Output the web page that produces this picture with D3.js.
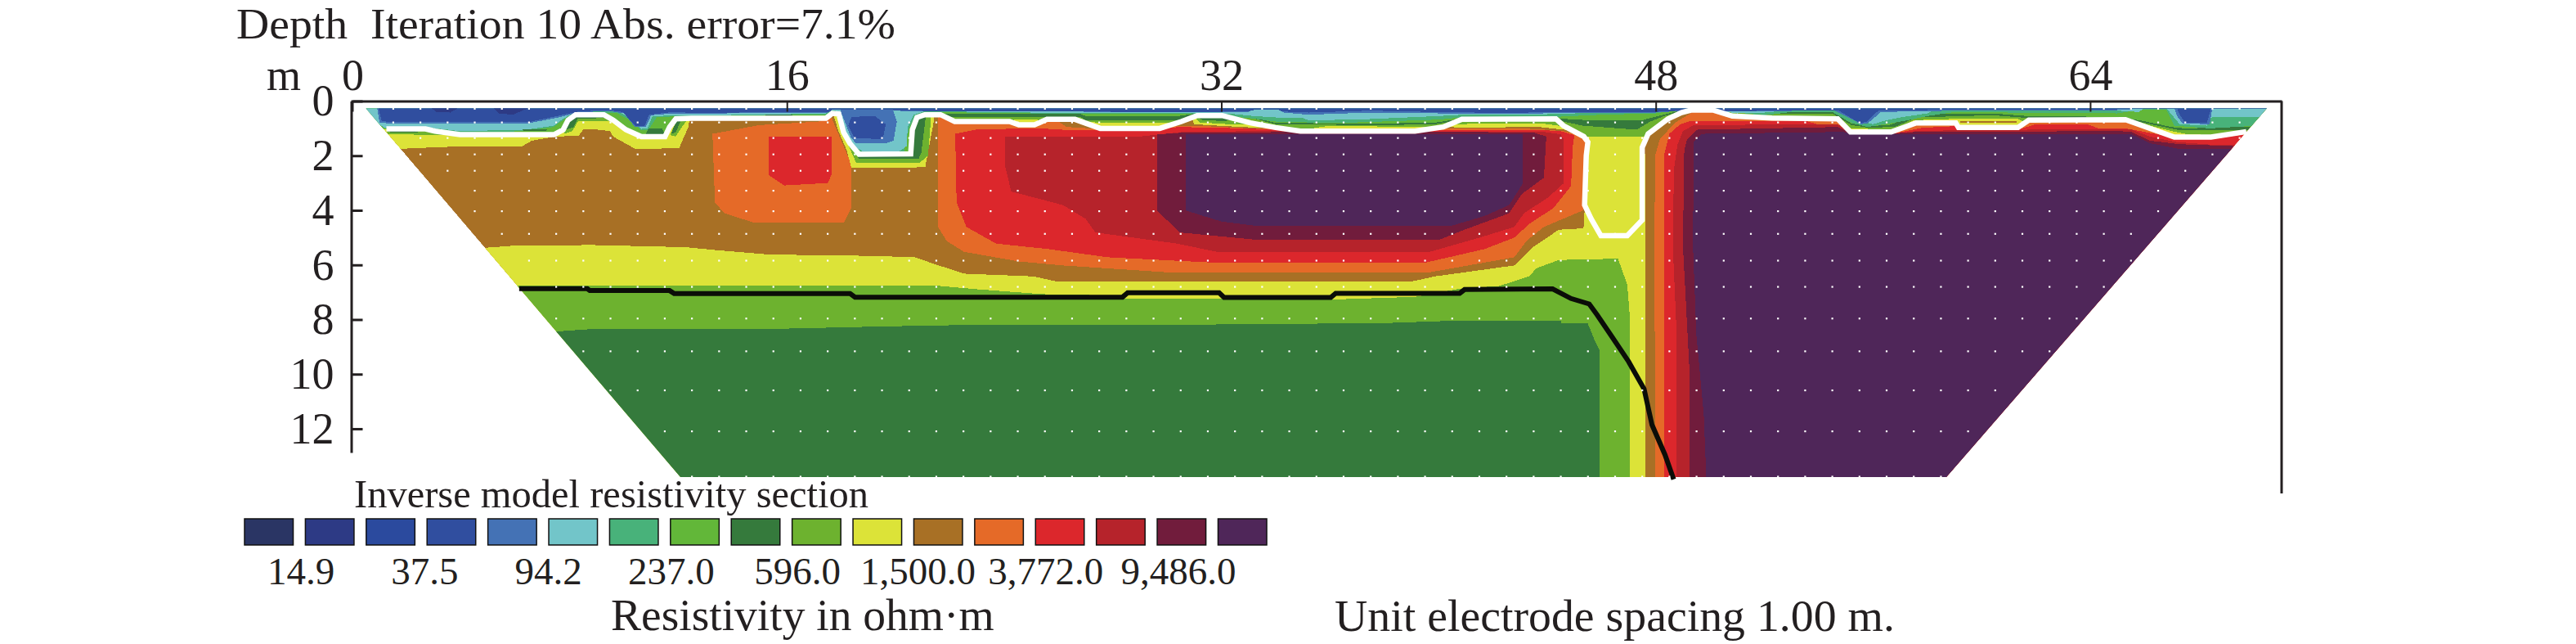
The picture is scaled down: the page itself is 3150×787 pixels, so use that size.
<!DOCTYPE html>
<html>
<head>
<meta charset="utf-8">
<script src="https://d3js.org/d3.v7.min.js"></script>
<style>
body { margin: 0; background: #fff; }
text { font-family: "Liberation Serif", serif; fill: #231f20; }
</style>
</head>
<body>
<svg id="chart" width="3150" height="787"></svg>
<script>
// resistivity classes of the colour key, low to high
const bandColors = ['#2a3564','#2d3a85','#2b4a9e','#304e9f','#4472b5','#72c5c9','#48b27a','#62b739',
	'#357a3c','#6db22f','#dce338','#a87025','#e56a28','#dc272c','#b6232b','#711c3c','#4f2659'];
const BROWN = 11, YELLOW = 10, GREEN9 = 9, DKGREEN = 8, GREEN7 = 7, SEA = 6, CYAN = 5, STEEL = 4, BLUE = 3, NAVY = 1,
	ORANGE = 12, RED = 13, DKRED = 14, WINE = 15, PURPLE = 16;
const keyLabels = ['14.9','37.5','94.2','237.0','596.0','1,500.0','3,772.0','9,486.0'];
const xTicks = [0,16,32,48,64];
const yTicks = [0,2,4,6,8,10,12];

const section = [[0.5,0.27],[70.5,0.27],[58.7,13.77],[12.08,13.77]];

// the white line, the upper zone sits above it
const whiteLine = [[1.25,1.02],[2.69,1.02],[3.04,1.1],[3.96,1.23],[7.42,1.23],[7.76,1.05],[7.94,0.7],[8.22,0.5],[9.26,0.5],[9.61,0.7],
	[10.07,1.05],[10.64,1.3],[11.51,1.3],[11.68,0.95],[11.91,0.65],[12.49,0.63],[17.44,0.63],[17.67,0.45],[17.91,0.47],[18.09,1.15],[18.32,1.55],
	[18.66,1.95],[20.56,1.93],[20.62,1.05],[20.79,0.6],[21.08,0.5],[21.66,0.5],[22.18,0.75],[24.2,0.75],[24.54,0.87],[25.12,0.87],[25.58,0.67],
	[26.61,0.67],[27.54,1],[29.73,1],[30.53,0.75],[31.11,0.53],[32.03,0.53],[33.07,0.8],[34,0.97],[34.91,1.1],[39.13,1.1],[40.17,0.95],[40.86,0.67],
	[44.32,0.65],[44.6,0.9],[45.35,1.3],[45.5,1.5],[45.44,2],[45.38,3.81],[45.62,4.31],[45.98,4.93],[46.95,4.93],[47.5,4.36],[47.5,1.7],[47.72,1.2],
	[48.45,0.65],[48.95,0.42],[49.3,0.33],[50.1,0.33],[50.82,0.55],[52.28,0.62],[54.7,0.65],[55.17,1.13],[56.67,1.13],[57.59,0.8],[59.05,0.8],
	[59.15,0.97],[61.34,0.97],[61.74,0.7],[65.3,0.68],[67.1,1.32],[68.45,1.32],[69.75,1.12]];

const blackLine = [[6.14,6.87],[8.65,6.87],[8.74,6.94],[11.68,6.94],[11.85,7.05],[18.33,7.05],[18.51,7.18],[28.36,7.18],[28.55,7.02],[31.92,7.02],
	[32.1,7.19],[36.03,7.19],[36.21,7.04],[40.78,7.04],[40.96,6.9],[44.2,6.88],[44.88,7.23],[45.55,7.43],[45.84,7.83],[46.32,8.53],[47,9.54],
	[47.57,10.54],[47.86,11.85],[48.34,12.95],[48.66,13.85]];

// below the white line, painted in this order over a brown base
const lowerYellow = [[0,5.37],[4.92,5.37],[5.87,5.3],[8.79,5.27],[12.25,5.35],[13.53,5.47],[15.36,5.62],[19.19,5.67],[20.7,5.72],[21.6,6.02],
	[22.52,6.32],[25.08,6.42],[26,6.62],[38.95,6.62],[39.86,6.42],[42.79,6.02],[43.52,5.32],[44.43,4.71],[45.34,4.66],[45.44,3],[45.44,1],
	[47.5,1],[47.5,1.7],[47.63,2],[47.63,14],[0,14]];
const lowerGreen = [[0,6.77],[21.62,6.77],[23,6.89],[25.42,7.07],[28.18,7.12],[28.36,7.25],[32,7.25],[36,7.27],[39.14,7.17],[40.78,6.87],
	[42.24,6.77],[43.33,6.42],[43.61,6.12],[44.43,5.82],[46.61,5.77],[46.95,6.72],[47.05,7.93],[47.05,14],[0,14]];
const lowerDark = [[0,8.43],[7.61,8.43],[8.65,8.36],[16.09,8.33],[19.63,8.25],[23.7,8.18],[28.1,8.21],[38.04,8.13],[40.05,8.06],[44.5,8.05],
	[44.53,8.13],[45.49,8.13],[45.74,8.73],[45.94,9.14],[45.94,14],[0,14]];

const leftYellow = [[1,0.9],[12.43,0.6],[12.37,0.95],[12.03,1.73],[10.41,1.75],[9.6,1.3],[9.49,1.1],[8.8,1.02],[8.51,1.02],[8.34,1.27],[7.47,1.3],
	[6.61,1.45],[6.26,1.65],[3.32,1.68],[1.77,1.75]];
const leftGreen = [[1.25,1.05],[2.7,1.05],[3.9,1.25],[3,1.25],[1.3,1.2]];
const leftDark = [[1.3,1.08],[2.2,1.08],[2.5,1.16],[1.4,1.16]];
const archGreen = [[7.9,0.7],[8.2,0.5],[9.3,0.5],[9.6,0.75],[8.6,0.72],[8.3,0.75],[8.1,1.1],[7.8,1.2]];
const archDark = [[7.95,0.7],[8.2,0.55],[9.2,0.55],[9.3,0.62],[8.3,0.65],[8.15,0.95],[7.85,1.05]];
const pocketGreen = [[11.7,1.25],[11.95,0.7],[12.32,0.7],[12.1,1],[11.9,1.3]];
const pocketDark = [[11.72,1.2],[11.95,0.72],[12.1,0.72],[11.9,1.15]];

const patchOrange = [[13.26,1.2],[14.99,0.88],[17.18,0.75],[17.64,0.6],[18.37,2.3],[18.37,3.91],[18.1,4.46],[14.81,4.46],[13.7,4.11],[13.35,3.71]];
const patchRed = [[15.32,1.3],[17.64,1.3],[17.64,2.7],[17.51,3],[15.9,3.09],[15.33,2.71]];

const troughYellow = [[17.74,0.6],[17.9,1.1],[18.2,1.8],[18.38,2.45],[20.5,2.45],[21.1,2.4],[21.4,0.8],[21.4,0.4],[17.74,0.4]];
const troughGreen = [[17.85,0.6],[18.05,1.2],[18.3,1.7],[18.55,2.25],[20.9,2.25],[21.2,2],[21.3,0.7],[21.3,0.4],[17.85,0.4]];
const troughDark = [[17.95,0.6],[18.15,1.2],[18.4,1.6],[18.65,2.12],[20.85,2.12],[20.95,1.9],[21.1,0.7],[21.1,0.4],[17.95,0.4]];

const capYellowA = [[30.9,0.6],[32.2,0.6],[33.2,0.85],[34,1],[33.2,0.97],[32.2,0.92],[31,0.85]];
const capGreenA = [[31,0.55],[32.2,0.55],[32.8,0.72],[33,0.85],[32.3,0.85],[31.2,0.78]];
const capDarkA = [[31.1,0.55],[32.1,0.55],[32.5,0.68],[32.1,0.73],[31.3,0.7]];
const capYellowB = [[40.2,0.95],[40.9,0.65],[44.4,0.65],[45.1,1.1],[43.7,0.95],[41,0.97]];
const capGreenB = [[40.5,0.85],[41,0.68],[44.4,0.68],[44.8,0.95],[43.8,0.82],[42,0.82]];

const bodyOrange = [[21.57,0.5],[25.5,0.6],[26,0.75],[26.3,0.95],[27.2,1],[29.8,0.97],[30.3,0.9],[31,0.9],[32.1,0.95],[33,1],[34,1],[34.9,1.1],
	[39.1,1.1],[40,1.02],[41,1],[43.5,1.02],[44.6,1.1],[45.2,1.25],[45.44,1.5],[45.4,3.7],[45.31,4.01],[43.88,4.61],[43.24,5.12],[42.79,5.72],
	[39.68,6.27],[30,6.27],[26.17,6.02],[24.53,5.87],[22.52,5.52],[21.88,5.12],[21.57,4.61]];
const bodyRed = [[22.2,1.2],[22.93,1.05],[25.12,0.99],[26.15,1.05],[27.54,1.05],[29.73,1.02],[30.42,0.95],[32.03,0.98],[33.3,1.02],[34,1.05],[34.9,1.12],
	[39.1,1.12],[40.2,1.05],[43.5,1.05],[44.5,1.1],[45,1.25],[44.94,1.7],[44.88,3.11],[44.24,3.91],[43.33,4.51],[42.79,5],[41.69,5.42],[39.5,5.92],
	[31.83,5.92],[27.82,5.72],[25.63,5.42],[23.71,5.22],[22.61,4.61],[22.25,3.71]];
const bodyDkRed = [[24.02,1.3],[29,1.3],[29.9,1.2],[30.7,1.12],[34,1.1],[35,1.13],[39.1,1.12],[43.8,1.12],[44.5,1.22],[44.61,1.4],[44.61,3.01],
	[44.06,3.51],[43.15,4.11],[42.79,4.61],[41.51,5],[39.68,5.52],[31.83,5.52],[30.37,5.22],[27.36,4.81],[27,4.31],[26.17,3.81],[24.26,3.31],[24.02,2.3]];
const bodyWine = [[29.64,1.22],[30.7,1.15],[39,1.12],[43.5,1.15],[43.97,1.3],[43.88,2.81],[43.06,3.41],[42.6,4.11],[40.96,4.71],[40.05,5.07],
	[33.2,5.07],[30.46,4.81],[29.64,4.01]];
const bodyPurple = [[30.7,1.2],[43.11,1.2],[43.11,3.01],[42.6,3.81],[41.69,4.21],[40.5,4.56],[33.2,4.56],[32,4.41],[30.7,4.01]];

const rightOrange = [[47.99,14],[47.95,5.32],[47.98,2],[48.15,1.4],[48.7,0.8],[49.2,0.5],[49.5,0.3],[72,0.3],[72,14]];
const rightRed = [[48.3,14],[48.3,2],[48.5,1.2],[48.9,0.85],[49.3,0.72],[53.5,0.72],[55,1.15],[56.7,1.2],[57.8,0.98],[59,0.92],[59.1,1],[61.5,1],
	[62,0.85],[63.9,0.85],[64.3,1],[65.3,1],[66,1.13],[67.2,1.35],[68.5,1.4],[69.5,1.25],[72,1.1],[72,14]];
const rightDkRed = [[48.76,14],[48.76,8.3],[48.63,5.32],[48.67,2.5],[48.8,1.6],[49,1.1],[49.4,0.88],[54.7,0.85],[55.2,1.17],[56.7,1.2],[57.6,1.1],
	[59,1.07],[61.5,1.05],[65.49,1.03],[66.2,1.3],[67.16,1.5],[68.5,1.6],[72,1.6],[72,14]];
const rightWine = [[49.24,14],[49.24,9.84],[49.07,6.6],[49,5.32],[49.05,1.8],[49.15,1.4],[49.5,1.05],[54.7,0.95],[55.1,1.13],[56.8,1.18],[57.6,1.13],
	[65,1.1],[65.5,1.12],[66.2,1.45],[67.3,1.58],[69.3,1.65],[72,1.65],[72,14]];
const rightPurple = [[49.87,14],[49.77,11.5],[49.5,8.6],[49.37,5.32],[49.4,1.5],[49.7,1.2],[54.9,1.13],[55.2,1.2],[65.49,1.2],[66.23,1.55],[67.27,1.75],
	[72,1.77],[72,14]];

// above the white line: lower edge of each class, surface to that edge
const upperGreen9 = [[0,3],[22,1],[24,0.85],[24.4,0.68],[25.2,0.68],[25.6,0.8],[26.6,0.8],[27,0.75],[27.6,0.8],[30.5,0.8],[31.1,0.6],[32,0.6],[33,0.85],
	[34,1.05],[35,1.05],[36,0.9],[39,0.95],[40.2,0.95],[41,1],[44.4,1],[45.4,1.3],[47.6,1.3],[48,1],[48.5,0.8],[49,0.6],[52,0.8],[54.8,0.8],[55.2,1],
	[56.8,1.05],[57.5,0.7],[59.1,0.65],[61.3,0.63],[61.7,0.85],[65.8,0.85],[66.2,0.9],[67,1.1],[67.5,1.2],[68.5,1.25],[72,1.2]];
const upperDark = [[0,0.2],[20.9,0.2],[21,0.5],[22,0.57],[26.8,0.57],[27,0.7],[30.4,0.7],[31,0.55],[33,0.58],[34,0.85],[37.5,0.88],[39.8,0.86],[41,0.66],
	[44.3,0.66],[44.6,0.75],[45.3,0.9],[47.3,1.05],[47.8,0.75],[48.3,0.55],[49,0.36],[50.2,0.4],[52,0.45],[54.5,0.45],[55.2,0.88],[55.8,0.97],[56.8,0.95],
	[57.6,0.6],[60.4,0.52],[61.7,0.62],[65.1,0.63],[66,0.8],[67.2,1.05],[68,1.07],[69.5,1.05],[72,1.05]];
const upperGreen7 = [[0,3],[20.6,3],[20.9,0.7],[21.08,0.45],[25.8,0.45],[26.8,0.47],[27,0.55],[30.4,0.55],[31.1,0.45],[33,0.55],[34,0.8],[37,0.82],[39.8,0.8],
	[41,0.62],[44.3,0.62],[44.6,0.65],[45.5,0.7],[47.5,0.7],[47.9,0.6],[48.3,0.5],[49,0.32],[50.2,0.36],[52,0.4],[54.5,0.38],[55.2,0.82],[55.8,0.92],[56.6,0.88],
	[57.5,0.55],[58.4,0.45],[60.4,0.45],[61.7,0.55],[65,0.58],[65.8,0.7],[67,0.95],[67.5,1],[69.5,0.95],[72,0.95]];
const upperSea = [[0,0.3],[1.2,1],[3,1.05],[4,1.15],[6.4,1.1],[7.4,0.95],[7.9,0.6],[8.3,0.48],[9.7,0.42],[10.3,0.75],[10.6,1.05],[10.9,1.05],[11.2,0.6],
	[12,0.55],[17.5,0.48],[17.9,0.55],[18.1,1.2],[18.5,1.8],[18.75,1.9],[20.3,1.9],[20.5,1],[20.7,0.6],[21.1,0.4],[25,0.45],[31,0.45],[33,0.62],[34,0.75],
	[35.2,0.78],[37,0.78],[40,0.68],[41,0.58],[44.3,0.58],[46,0.5],[48,0.45],[49,0.3],[50.2,0.34],[52,0.52],[53,0.4],[54.5,0.4],[55.2,0.8],[55.8,0.95],
	[56.6,0.82],[57.2,0.72],[58,0.55],[59,0.4],[61,0.42],[65,0.45],[66,0.3],[66.8,0.3],[67.1,0.9],[68.4,1],[72,0.8]];
const upperCyan = [[0,0.3],[0.96,0.85],[1.19,0.98],[2.92,0.98],[3.96,1.1],[6.38,1.05],[7.42,0.9],[7.76,0.65],[8.11,0.45],[8.57,0.35],[9.72,0.35],[10.3,0.65],
	[10.64,1.02],[10.87,1],[11.05,0.55],[11.8,0.53],[12.5,0.52],[15.25,0.5],[17.44,0.45],[17.66,0.35],[17.8,0.35],[18.03,0.75],[18.2,1.25],[18.55,1.7],[18.78,1.83],
	[20.16,1.83],[20.41,1.65],[20.45,0.95],[20.68,0.5],[21.08,0.37],[25,0.42],[31,0.42],[32.5,0.48],[33.2,0.55],[34,0.6],[35,0.62],[35.21,0.7],[37,0.68],[40,0.55],
	[40.9,0.5],[44,0.48],[45,0.45],[47,0.42],[48,0.35],[49.1,0.3],[50,0.32],[51,0.45],[52,0.42],[53,0.33],[54.7,0.33],[55.2,0.6],[55.6,0.75],[56,0.85],[56.5,0.7],
	[57,0.6],[58,0.45],[58.3,0.32],[61.5,0.33],[65,0.35],[65.8,0.4],[66,0.25],[66.8,0.25],[67,0.5],[67.3,0.85],[68.3,0.9],[68.45,0.6],[72,0.55]];
const upperSteel = [[0.9,0.2],[1,0.78],[1.4,0.83],[6.4,0.83],[7.5,0.62],[8.3,0.42],[9.4,0.36],[10,0.45],[10.4,0.95],[10.8,0.95],[11,0.52],[11.8,0.45],[12.5,0.46],
	[17.5,0.42],[17.7,0.3],[21,0.38],[33,0.4],[33.2,0.3],[34.1,0.3],[34.3,0.42],[35.2,0.5],[37.5,0.42],[40,0.45],[42,0.46],[45.6,0.44],[48,0.42],[49,0.36],[49.4,0.3],
	[50.1,0.3],[50.5,0.38],[53,0.36],[54.6,0.35],[55.3,0.7],[55.55,0.85],[55.8,0.82],[56.3,0.4],[58,0.37],[60,0.33],[65,0.33],[66,0.27],[67.1,0.27],[67.2,0.55],
	[67.4,0.82],[68.4,0.85],[68.5,0.27],[72,0.27]];
const upperBlue = [[0.94,0.2],[1.08,0.73],[1.42,0.77],[6.49,0.77],[7.53,0.55],[8.34,0.38],[9.38,0.33],[9.95,0.4],[10.41,0.9],[10.76,0.9],[10.93,0.5],[11.8,0.4],[12.5,0.43],
	[17.56,0.4],[17.7,0.3],[21,0.36],[25,0.38],[31,0.4],[33,0.38],[33.3,0.3],[34.1,0.3],[34.2,0.38],[35.21,0.42],[37.5,0.35],[39.8,0.4],[42.1,0.43],[45.6,0.4],[47.9,0.4],
	[48.9,0.35],[49.4,0.3],[50.1,0.3],[50.4,0.37],[52.98,0.35],[54.7,0.33],[55.5,0.8],[55.75,0.77],[56.2,0.35],[58,0.33],[58.5,0.3],[65,0.3],[66,0.27],[67.2,0.27],[67.3,0.5],
	[67.5,0.8],[68.3,0.8],[68.45,0.27],[72,0.27]];
const troughSteel = [[17.97,0.33],[18.09,0.65],[18.37,1.35],[18.55,1.55],[19.64,1.55],[19.93,1.45],[20.05,0.75],[19.9,0.3]];
const troughBlue = [[18.37,0.6],[18.26,0.9],[18.49,1.35],[19.53,1.4],[19.64,0.85],[19.24,0.55],[18.89,0.55]];
const navyA = [[2.9,0.25],[3.9,0.25],[3.6,0.42],[3.1,0.4]];
const navyB = [[5.2,0.25],[6.5,0.25],[5.9,0.5],[5.4,0.45]];
const stripDarkA = [[6.26,1.03],[7.2,1.03],[7.1,1.1],[6.3,1.1]];
const stripDarkB = [[15.2,0.5],[16.2,0.5],[16.2,0.56],[15.2,0.56]];
const stripDarkC = [[10.9,1],[11.4,1],[11.5,1.2],[10.8,1.2]];
const stripBrown = [[59.2,0.72],[61.3,0.72],[61.3,0.8],[59.2,0.8]];

// grid points of the model: depth, first and last x of each row
const gridDepths = [0.28,0.78,1.35,1.95,2.55,3.28,4.03,4.86,5.84,6.8,7.96,9.16,10.59,12.09,13.75];
const gridFirst = [1.5,1.5,2.5,2.5,3.5,4.5,4.5,5.5,6.5,7.5,7.5,8.5,9.5,11.5,12.5];
const gridLast = [69.5,69.5,69.5,68.5,67.5,67.5,66.5,65.5,65.5,64.5,63.5,62.5,60.5,59.5,58.5];

const lowerLayers = [[YELLOW,lowerYellow],[GREEN9,lowerGreen],[DKGREEN,lowerDark],
	[YELLOW,leftYellow],[GREEN9,leftGreen],[DKGREEN,leftDark],[GREEN9,archGreen],[DKGREEN,archDark],[GREEN9,pocketGreen],[DKGREEN,pocketDark],
	[ORANGE,patchOrange],[RED,patchRed],[YELLOW,troughYellow],[GREEN9,troughGreen],[DKGREEN,troughDark],
	[YELLOW,capYellowA],[GREEN9,capGreenA],[DKGREEN,capDarkA],[YELLOW,capYellowB],[GREEN9,capGreenB],
	[ORANGE,bodyOrange],[RED,bodyRed],[DKRED,bodyDkRed],[WINE,bodyWine],[PURPLE,bodyPurple],
	[ORANGE,rightOrange],[RED,rightRed],[DKRED,rightDkRed],[WINE,rightWine],[PURPLE,rightPurple]];
const upperEdges = [[GREEN9,upperGreen9],[DKGREEN,upperDark],[GREEN7,upperGreen7],[SEA,upperSea],[CYAN,upperCyan],[STEEL,upperSteel],[BLUE,upperBlue]];
const upperPatches = [[BROWN,stripBrown],[DKGREEN,stripDarkA],[DKGREEN,stripDarkB],[DKGREEN,stripDarkC],[STEEL,troughSteel],[BLUE,troughBlue],[NAVY,navyA],[NAVY,navyB]];

let svg = d3.select('#chart');
let x = d3.scaleLinear().domain([0,71.05]).range([431,2790]);
let y = d3.scaleLinear().domain([0,12]).range([123.5,524]);
let line = d3.line().x(d => x(d[0])).y(d => y(d[1]));
const closeUp = pts => [[pts[0][0],0]].concat(pts,[[pts[pts.length-1][0],0]]);

let defs = svg.append('defs');
defs.append('clipPath').attr('id','sectionClip').append('path').attr('d', line(section) + 'Z');
defs.append('clipPath').attr('id','upperClip').append('path')
	.attr('d', line(closeUp([[0,whiteLine[0][1]]].concat(whiteLine,[[72,whiteLine[whiteLine.length-1][1]]]))) + 'Z');

let sect = svg.append('g').attr('clip-path','url(#sectionClip)').attr('shape-rendering','crispEdges');
sect.append('path').attr('d', line(section) + 'Z').attr('fill', bandColors[BROWN]);
sect.selectAll('.lower').data(lowerLayers).enter().append('path')
	.attr('class','lower')
	.attr('d', d => line(d[1]) + 'Z')
	.attr('fill', d => bandColors[d[0]]);

let upper = sect.append('g').attr('clip-path','url(#upperClip)');
upper.append('path').attr('d', line(section) + 'Z').attr('fill', bandColors[YELLOW]);
upper.selectAll('.edge').data(upperEdges).enter().append('path')
	.attr('class','edge')
	.attr('d', d => line(closeUp(d[1])) + 'Z')
	.attr('fill', d => bandColors[d[0]]);
upper.selectAll('.patch').data(upperPatches).enter().append('path')
	.attr('class','patch')
	.attr('d', d => line(d[1]) + 'Z')
	.attr('fill', d => bandColors[d[0]]);

svg.append('path').attr('d', line(whiteLine)).attr('fill','none').attr('stroke','#fff').attr('stroke-width',6.5);
svg.append('path').attr('d', line(blackLine)).attr('fill','none').attr('stroke','#0b0d08').attr('stroke-width',6);

// white grid dots
gridDepths.forEach(function (depth, i) {
	svg.append('g').selectAll('rect').data(d3.range(gridFirst[i], gridLast[i] + 0.1)).enter().append('rect')
		.attr('x', d => x(d) - 1)
		.attr('y', y(depth) - 1)
		.attr('width', 2.2)
		.attr('height', 2.2)
		.attr('fill', '#fff');
});

// axes
let topAxis = svg.append('g').attr('transform','translate(0,' + y(0) + ')')
	.call(d3.axisTop(x).tickValues(xTicks).tickFormat(d3.format('d')).tickSize(-13).tickSizeOuter(0).tickPadding(13.5));
topAxis.select('.domain').attr('stroke','#231f20').attr('stroke-width',3);
topAxis.selectAll('line').attr('stroke','#231f20').attr('stroke-width',2);
topAxis.selectAll('text').attr('font-size',54).attr('font-family','Liberation Serif').attr('fill','#231f20');

let leftAxis = svg.append('g').attr('transform','translate(429.5,0)')
	.call(d3.axisLeft(y.copy().domain([0,12.87]).range([123.5,553])).tickValues(yTicks).tickSize(-14).tickSizeOuter(0).tickPadding(21));
leftAxis.select('.domain').attr('stroke','#231f20').attr('stroke-width',3);
leftAxis.selectAll('line').attr('stroke','#231f20').attr('stroke-width',3);
leftAxis.selectAll('text').attr('font-size',54).attr('font-family','Liberation Serif').attr('fill','#231f20');

svg.append('line').attr('x1', x(71.05)).attr('x2', x(71.05)).attr('y1', y(0)).attr('y2', y(14.37))
	.attr('stroke','#231f20').attr('stroke-width',3);

// colour key
let keyX = d3.scaleBand().domain(d3.range(bandColors.length)).range([299,1549]).paddingInner(0.2);
svg.selectAll('.swatch').data(bandColors).enter().append('rect')
	.attr('class','swatch')
	.attr('x', (d,i) => keyX(i))
	.attr('y', 634)
	.attr('width', keyX.bandwidth())
	.attr('height', 32)
	.attr('fill', d => d)
	.attr('stroke', '#111')
	.attr('stroke-width', 1.5);
// the printed labels are not evenly spaced, nudge them back
const keyLabelNudge = [0,-2,-4,-7,-6,-12,-9,0];
let keyLabelX = d3.scalePoint().domain(keyLabels).range([368,1441]);
svg.selectAll('.keylab').data(keyLabels).enter().append('text')
	.attr('class','keylab')
	.attr('x', (d,i) => keyLabelX(d) + keyLabelNudge[i])
	.attr('y', 714)
	.attr('text-anchor','middle')
	.attr('font-size',47)
	.text(d => d);

svg.append('text').attr('x',289).attr('y',47).attr('font-size',52.5).attr('textLength',806).attr('lengthAdjust','spacingAndGlyphs')
	.attr('xml:space','preserve').text('Depth  Iteration 10 Abs. error=7.1%');
svg.append('text').attr('x',326).attr('y',110).attr('font-size',54).text('m');
svg.append('text').attr('x',433).attr('y',620).attr('font-size',48.5).text('Inverse model resistivity section');
svg.append('text').attr('x',747).attr('y',770).attr('font-size',55.5).text('Resistivity in ohm\u00b7m');
svg.append('text').attr('x',1632).attr('y',771).attr('font-size',55.8).text('Unit electrode spacing 1.00 m.');
</script>
</body>
</html>
